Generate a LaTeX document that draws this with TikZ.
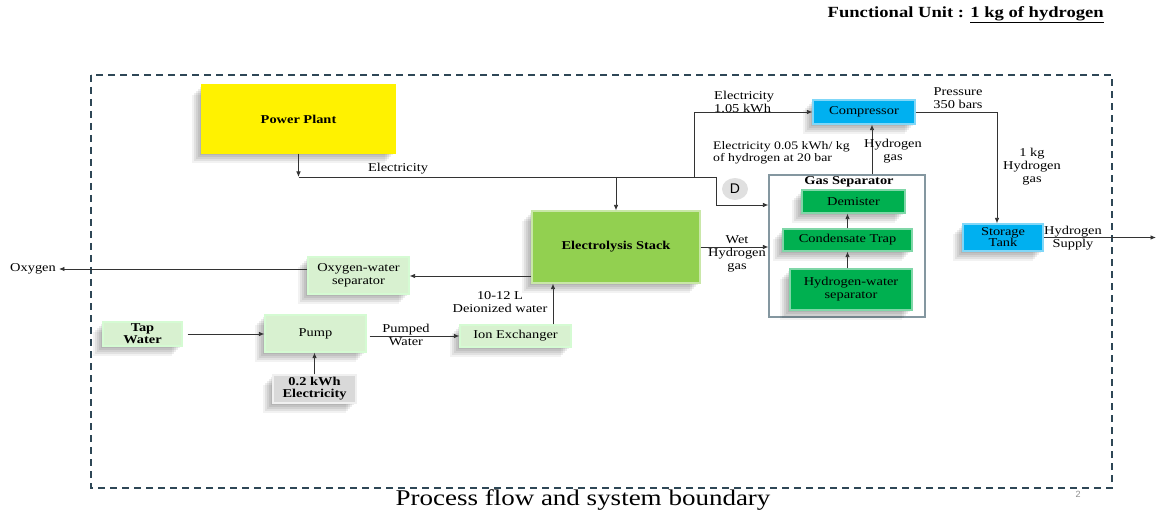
\documentclass[tikz,border=0pt]{standalone}
\usepackage{fontspec}
\setmainfont{Liberation Serif}[FakeStretch=1.2]
\newfontfamily\dfont{Liberation Sans}
\usetikzlibrary{arrows.meta,shadows,shapes.geometric}

\begin{document}
\begin{tikzpicture}[x=1pt, y=-1pt,
    font=\fontsize{12}{13}\selectfont,
    unit/.style={rectangle, inner sep=0pt, align=center, line width=1.2pt,
                 drop shadow={shadow xshift=-2pt, shadow yshift=-2pt, fill=black, opacity=0.07},
                 drop shadow={shadow xshift=-4pt, shadow yshift=-4pt, fill=black, opacity=0.07},
                 drop shadow={shadow xshift=-6pt, shadow yshift=-6pt, fill=black, opacity=0.07},
                 drop shadow={shadow xshift=-8pt, shadow yshift=-8pt, fill=black, opacity=0.07},
                 drop shadow={shadow xshift=-10pt, shadow yshift=-10pt, fill=black, opacity=0.05}},
    wire/.style={draw=black!80, line width=0.8pt},
    flow/.style={wire, -{Latex[length=5.5pt,width=4.5pt]}},
    lbl/.style={align=center, inner sep=0pt}]
    \colorlet{plant}{yellow}
    \definecolor{stackgreen}{HTML}{92D050}
    \definecolor{sepgreen}{HTML}{00B050}
    \definecolor{cyanblue}{HTML}{00B0F0}
    \definecolor{palegreen}{HTML}{D8F1D0}
    \definecolor{boundary}{HTML}{2E4756}
    \definecolor{sepframe}{HTML}{8497A0}

    \useasboundingbox (0,0) rectangle (1157,513);

    % system boundary
    \draw[boundary, line width=1.6pt, dash pattern=on 7pt off 5pt] (91,75) rectangle (1112,488);

    % main units
    \node[unit, fill=plant, draw=plant, minimum width=193pt, minimum height=68pt,
          font=\fontsize{12}{13}\selectfont\bfseries] (pp) at (298.5,119) {Power Plant};
    \node[unit, fill=stackgreen, draw=stackgreen!50!white, minimum width=168pt, minimum height=72pt,
          font=\fontsize{12}{13}\selectfont\bfseries] (stack) at (616,247) {Electrolysis Stack};
    \node[unit, fill=palegreen, draw=palegreen!70!green!40!white, minimum width=101pt, minimum height=37pt] (owsep) at (358.5,275.5) {Oxygen-water\\separator};
    \node[unit, fill=palegreen, draw=palegreen!70!green!40!white, minimum width=79pt, minimum height=24pt,
          font=\fontsize{12}{12}\selectfont\bfseries] (tap) at (142.5,334) {Tap\\Water};
    \node[unit, fill=palegreen, draw=palegreen!70!green!40!white, minimum width=101pt, minimum height=37pt] (pump) at (315.5,333.5) {Pump};
    \node[unit, fill=palegreen, draw=palegreen!70!green!40!white, minimum width=111pt, minimum height=22pt] (ionex) at (515.5,336) {Ion Exchanger};
    \node[unit, fill=black!15, draw=black!6, minimum width=83pt, minimum height=28pt,
          font=\fontsize{12}{12}\selectfont\bfseries] (elec) at (314.5,389) {0.2 kWh\\Electricity};

    % gas separator and its stages
    \node[draw=sepframe, fill=white, line width=1.2pt, minimum width=156pt, minimum height=142pt] (gassep) at (847,246) {};
    \node[lbl, font=\fontsize{12}{13}\selectfont\bfseries] (gastitle) at (849,182) {Gas Separator};
    \node[unit, fill=sepgreen, draw=sepgreen!50!white, minimum width=103pt, minimum height=23pt] (demister) at (853.5,201.5) {Demister};
    \node[unit, fill=sepgreen, draw=sepgreen!50!white, minimum width=129pt, minimum height=22pt] (ctrap) at (847.5,240) {Condensate Trap};
    \node[unit, fill=sepgreen, draw=sepgreen!50!white, minimum width=122pt, minimum height=41pt] (hwsep) at (851,289.5) {Hydrogen-water\\separator};

    % compression and storage
    \node[unit, fill=cyanblue, draw=cyanblue!50!white, minimum width=102pt, minimum height=24pt] (comp) at (864,112) {Compressor};
    \node[unit, fill=cyanblue, draw=cyanblue!50!white, minimum width=80pt, minimum height=27pt,
          font=\fontsize{12}{11}\selectfont] (tank) at (1003,237.5) {Storage\\Tank};

    % electricity bus
    \coordinate (busL) at (pp.south |- 0,177);
    \coordinate (split) at (694,177);
    \coordinate (busR) at (716,177);
    \coordinate (dturn) at (716,205);
    \draw[flow] (pp.south) -- (busL);
    \draw[wire] (busL) -- (busR);
    \draw[flow] (stack.north |- busL) -- (stack.north);
    \draw[flow] (split) |- (comp.west);
    \draw[flow] (busR) -- (dturn) -- (dturn -| gassep.west);
    \node[ellipse, fill=black!12, minimum width=26pt, minimum height=22pt, inner sep=0pt,
          font=\dfont\fontsize{14}{14}\selectfont] (dmark) at (735,189) {D};

    % hydrogen line
    \draw[flow] (stack.east) -- (stack.east -| gassep.west);
    \draw[flow] (hwsep.north -| ctrap) -- (ctrap.south);
    \draw[flow] (ctrap.north) -- (ctrap.north |- demister.south);
    \draw[flow] (gassep.north -| 872,0) -- (comp.south -| 872,0);
    \draw[flow] (comp.east) -| (tank.north -| 997,0);
    \coordinate (supply) at (1156,237.5);
    \draw[flow] (tank.east) -- (supply);

    % water and oxygen line
    \node[lbl] (oxy) at (33,269) {Oxygen};
    \draw[flow] (stack.west |- 0,276) -- (owsep.east |- 0,276);
    \draw[flow] (owsep.west |- oxy) -- ([xshift=3pt]oxy.east);
    \draw[flow, shorten <=5pt] (tap.east) -- (tap.east -| pump.west);
    \draw[flow, shorten <=3pt] (pump.east |- ionex.west) -- (ionex.west);
    \draw[flow] (ionex.north -| 553,0) -- (stack.south -| 553,0);
    \draw[flow] (elec.north) -- (elec.north |- pump.south);

    % flow labels
    \node[lbl] (lelec) at (398,169) {Electricity};
    \node[lbl, anchor=west, align=left] (lcomp) at (714,102) {Electricity\\1.05 kWh};
    \node[lbl, anchor=west, align=left, font=\fontsize{11.5}{12.5}\selectfont] (lsep) at (713,153) {Electricity 0.05 kWh/ kg\\of hydrogen at 20 bar};
    \node[lbl] (lh2) at (893,151) {Hydrogen\\gas};
    \node[lbl] (lpress) at (958,98) {Pressure\\350 bars};
    \node[lbl] (lkg) at (1032,167) {1 kg\\Hydrogen\\gas};
    \node[lbl] (lsupply) at (1073,238) {Hydrogen\\Supply};
    \node[lbl] (lwet) at (737,254) {Wet\\Hydrogen\\gas};
    \node[lbl] (ldi) at (500,302) {10-12 L\\Deionized water};
    \node[lbl] (lpumped) at (406,335) {Pumped\\Water};

    % titles
    \node[lbl, anchor=east, font=\fontsize{15.5}{16}\selectfont\bfseries] (funit) at (1104,15)
        {Functional Unit : \underline{1 kg of hydrogen}};
    \node[lbl, font=\fontsize{22.5}{24}\selectfont] (caption) at (583,500) {Process flow and system boundary};
    \node[lbl, text=black!45, font=\dfont\fontsize{9}{9}\selectfont] (pageno) at (1078,494) {2};
\end{tikzpicture}
\end{document}
